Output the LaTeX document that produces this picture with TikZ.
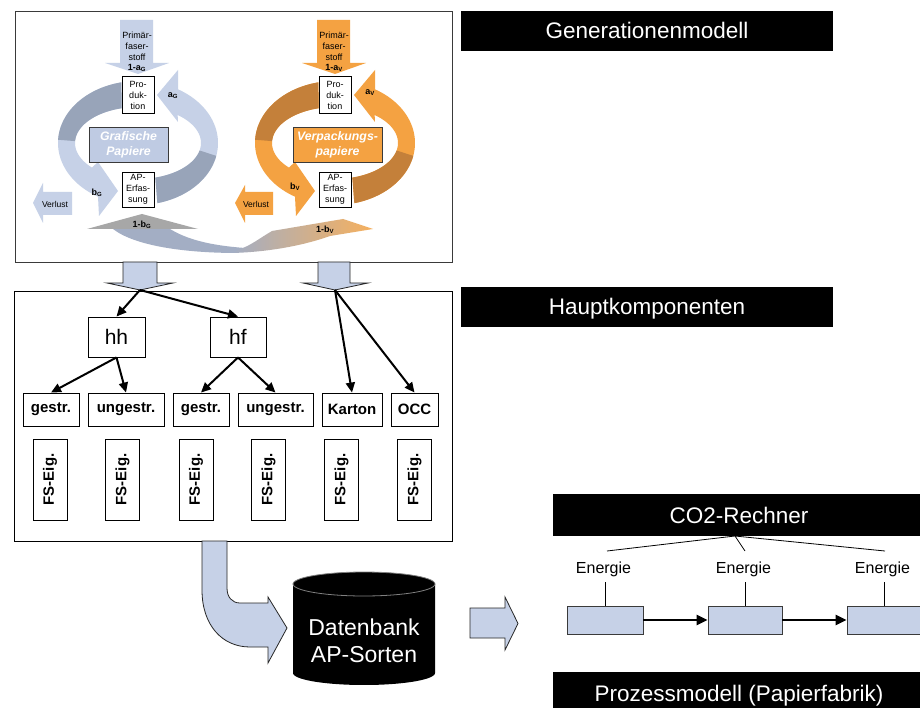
\documentclass[tikz,border=0pt]{standalone}
\usepackage{fontspec}
\usepackage{graphicx}
\setmainfont{Liberation Sans}
\usetikzlibrary{arrows.meta,calc}
\definecolor{lblue}{HTML}{C6D1E7}
\definecolor{dblue}{HTML}{98A4B9}
\definecolor{labblue}{HTML}{BFCBE3}
\definecolor{lor}{HTML}{F4A242}
\definecolor{dor}{HTML}{C4803A}
\definecolor{swg}{HTML}{A7A7A7}
\definecolor{swb}{HTML}{A3AEC4}
\definecolor{frm}{HTML}{3A3A3A}
\newcommand{\drawcycle}[3]{%
\fill[#2] plot[domain=258:120,samples=50] ({#1+80*cos(\x)},{143+62*sin(\x)}) -- ({#1-39},216) -- ({#1-20},191) -- ({#1-40},162) -- plot[domain=137:255,samples=50] ({#1+63*cos(\x)},{143+36*sin(\x)}) -- cycle;
\fill[#3] plot[domain=258:183,samples=40] ({#1+80*cos(\x)},{143+62*sin(\x)}) -- plot[domain=183:255,samples=40] ({#1+63*cos(\x)},{143+36*sin(\x)}) -- cycle;
\fill[#2] plot[domain=76:-60,samples=50] ({#1+80*cos(\x)},{143+62*sin(\x)}) -- ({#1+40},70) -- ({#1+19},95) -- ({#1+40},122) -- plot[domain=-51:74,samples=50] ({#1+63*cos(\x)},{143+36*sin(\x)}) -- cycle;
\fill[#3] plot[domain=76:12,samples=40] ({#1+80*cos(\x)},{143+62*sin(\x)}) -- plot[domain=12:74,samples=40] ({#1+63*cos(\x)},{143+36*sin(\x)}) -- cycle;
\fill[#2] ({#1-18},20) -- ({#1+15},20) -- ({#1+15},63) -- ({#1+31},63) -- (#1,74) -- ({#1-33},63) -- ({#1-18},63) -- cycle;
}
\begin{document}
\begin{tikzpicture}[x=1pt,y=-1pt,
  title/.style={fill=black,text=white,font=\fontsize{22.5}{27}\selectfont,inner sep=0pt,minimum width=372pt,minimum height=40pt,text height=16pt,text depth=0pt},
  small/.style={font=\fontsize{9}{10.7}\selectfont,align=center,inner sep=0pt},
  lab/.style={font=\fontsize{9}{10}\selectfont\bfseries,inner sep=0pt},
  cbox/.style={draw=black,fill=white,line width=0.8pt,inner sep=0pt,align=center,font=\fontsize{9}{11}\selectfont,minimum width=32pt,minimum height=37pt},
  labbox/.style={draw=frm,line width=0.8pt,inner sep=0pt,align=center,text=white,font=\fontsize{12.3}{15}\selectfont\bfseries\itshape,minimum height=35pt},
  hbox/.style={draw=black,line width=0.9pt,inner sep=0pt,minimum height=40pt,font=\fontsize{21}{24}\selectfont},
  catbox/.style={draw=black,line width=0.9pt,inner sep=0pt,minimum height=33pt,font=\fontsize{15}{18}\selectfont\bfseries},
  fsbox/.style={draw=black,line width=0.9pt,inner sep=0pt,minimum width=34pt,minimum height=81pt,font=\fontsize{15}{18}\selectfont\bfseries},
  harrow/.style={line width=2pt,-{Triangle[length=10pt,width=9pt]}},
  blockarrow/.style={fill=lblue,draw=black!85,line width=0.8pt},
  pbox/.style={fill=lblue,draw=frm,line width=0.9pt,inner sep=0pt,minimum height=28pt},
  parrow/.style={line width=2.6pt,-{Triangle[length=11pt,width=10pt]}},
  enl/.style={font=\fontsize{16}{19}\selectfont,inner sep=0pt}
]
\fill[white] (0,0) rectangle (920,708);
\useasboundingbox (0,0) rectangle (920,708);

% ---------- Generationenmodell ----------
\node[draw=frm,line width=0.9pt,minimum width=437pt,minimum height=251pt,inner sep=0pt] (genframe) at (233.5,136.5) {};
\drawcycle{138}{lblue}{dblue}
\drawcycle{335}{lor}{dor}

% swoosh 1-b
\fill[swb] (113,229) .. controls (135,246) and (185,253) .. (238,253) -- (245,248) .. controls (205,245) and (185,238) .. (170,229) -- cycle;
\fill[swg] (87,229) -- (142,214) -- (198,229) -- cycle;
\shade[left color=swb, right color=lor!85!white] (232,253) .. controls (270,252) and (305,245) .. (330,236) -- (373,229) -- (343,219) -- (272,231) .. controls (260,238) and (250,246) .. (240,249) -- cycle;
\node[lab] (bG1) at (142,225) {1-b\textsubscript{G}};
\node[lab] (bV1) at (325,230) {1-b\textsubscript{V}};

% Verlust arrows
\fill[lblue] (33,203) -- (43,183) -- (43,192) -- (72,192) -- (72,215) -- (43,215) -- (43,223) -- cycle;
\fill[lor] (235,203) -- (245,185) -- (245,192) -- (273,192) -- (273,215) -- (245,215) -- (245,223) -- cycle;
\node[small,font=\fontsize{8.5}{10}\selectfont] (verlG) at (55,204) {Verlust};
\node[small,font=\fontsize{8.5}{10}\selectfont] (verlV) at (256,204) {Verlust};

% boxes
\node[cbox] (prodG) at (138,95) {Pro-\\duk-\\tion};
\node[cbox,minimum height=35pt] (apG) at (138,189.5) {AP-\\Erfas-\\sung};
\node[cbox] (prodV) at (335,95) {Pro-\\duk-\\tion};
\node[cbox,minimum height=35pt] (apV) at (335,189.5) {AP-\\Erfas-\\sung};
\node[labbox,fill=labblue,minimum width=79pt] (labG) at (128.5,144.5) {Grafische\\Papiere};
\node[labbox,fill=lor,minimum width=89pt] (labV) at (337.5,144.5) {Verpackungs-\\papiere};

% Primärfaserstoff texts
\node[small] (primG) at (137,52) {Primär-\\faser-\\stoff\\\textbf{1-a\textsubscript{G}}};
\node[small] (primV) at (334,52) {Primär-\\faser-\\stoff\\\textbf{1-a\textsubscript{V}}};
\node[lab] (aG) at (173,96) {a\textsubscript{G}};
\node[lab] (bG) at (97,193) {b\textsubscript{G}};
\node[lab] (aV) at (370,93) {a\textsubscript{V}};
\node[lab] (bV) at (295,187) {b\textsubscript{V}};

\node[title] (gen) at (647,31) {Generationenmodell};

% ---------- connecting block arrows ----------
\draw[blockarrow] (123,262) -- (157,262) -- (157,283) -- (173,283) -- (140,290) -- (107,283) -- (123,283) -- cycle;
\draw[blockarrow] (318,262) -- (350,262) -- (350,283) -- (368,283) -- (335,290) -- (303,283) -- (318,283) -- cycle;
\coordinate (lt) at (140,290);
\coordinate (rt) at (335,290);

% ---------- Hauptkomponenten ----------
\node[draw=black,line width=0.9pt,minimum width=438pt,minimum height=250pt,inner sep=0pt] (hkframe) at (233,416) {};
\node[title] (hk) at (647,307) {Hauptkomponenten};

\node[hbox,minimum width=57pt] (hh) at (116.5,337) {hh};
\node[hbox,minimum width=56pt] (hf) at (238,337) {hf};

\node[catbox,minimum width=56pt] (g1) at (51,409.5) {gestr.};
\node[catbox,minimum width=76pt] (u1) at (126,409.5) {ungestr.};
\node[catbox,minimum width=56pt] (g2) at (201,409.5) {gestr.};
\node[catbox,minimum width=75pt] (u2) at (275.5,409.5) {ungestr.};
\node[catbox,minimum width=60pt] (kar) at (352,409.5) {Karton};
\node[catbox,minimum width=47pt] (occ) at (414.5,409.5) {OCC};

\node[fsbox] (fs1) at (50,479.5) {\rotatebox{90}{FS-Eig.}};
\node[fsbox] (fs2) at (122.5,479.5) {\rotatebox{90}{FS-Eig.}};
\node[fsbox] (fs3) at (196,479.5) {\rotatebox{90}{FS-Eig.}};
\node[fsbox] (fs4) at (268.5,479.5) {\rotatebox{90}{FS-Eig.}};
\node[fsbox] (fs5) at (341.5,479.5) {\rotatebox{90}{FS-Eig.}};
\node[fsbox] (fs6) at (414.5,479.5) {\rotatebox{90}{FS-Eig.}};

\draw[harrow] (lt) -- (hh.north);
\draw[harrow] (lt) -- (hf.north);
\draw[harrow] (hh.south) -- (g1.north);
\draw[harrow] (hh.south) -- (u1.north);
\draw[harrow] (hf.south) -- (g2.north);
\draw[harrow] (hf.south) -- (u2.north);
\draw[harrow] (rt) -- (kar.north);
\draw[harrow] (rt) -- (occ.north);

% ---------- Datenbank ----------
\draw[blockarrow] (202,541) -- (202,590) .. controls (202,625) and (222,647) .. (250,647) -- (268,647) -- (268,663) -- (287,628) -- (268,597) -- (268,603) -- (240,603) .. controls (232,603) and (227,597) .. (227,588) -- (227,541) -- cycle;
\fill[black] (293,584) -- (293,673) -- plot[domain=180:0,samples=40] ({364+71*cos(\x)},{673+12*sin(\x)}) -- (435,584) -- plot[domain=0:-180,samples=40] ({364+71*cos(\x)},{584+12*sin(\x)}) -- cycle;
\draw[gray,line width=0.8pt] plot[domain=0:360,samples=60] ({364+71*cos(\x)},{584+12*sin(\x)});
\node[text=white,align=center,inner sep=0pt,font=\fontsize{23}{27}\selectfont] (db) at (364,641) {Datenbank\\AP-Sorten};
\draw[blockarrow] (470,608) -- (505,608) -- (505,597) -- (518,623.5) -- (505,650) -- (505,638) -- (470,638) -- cycle;

% ---------- CO2 / Prozessmodell ----------
\node[title,minimum height=42pt] (co2) at (739,515) {CO2-Rechner};
\node[title,minimum height=42pt] (proz) at (739,693) {Prozessmodell (Papierfabrik)};
\coordinate (hub) at (735,536);
\coordinate (t1) at (607,551);
\coordinate (t2) at (745,551);
\coordinate (t3) at (885,551);
\draw[line width=0.8pt] (hub) -- (t1);
\draw[line width=0.8pt] (hub) -- (t2);
\draw[line width=0.8pt] (hub) -- (t3);
\node[enl,anchor=base] (e1) at (603.5,573) {Energie};
\node[enl,anchor=base] (e2) at (743.5,573) {Energie};
\node[enl,anchor=base] (e3) at (882.5,573) {Energie};
\node[pbox,minimum width=76pt] (p1) at (605,620) {};
\node[pbox,minimum width=74pt] (p2) at (745,620) {};
\node[pbox,minimum width=75pt] (p3) at (884.5,620) {};
\coordinate (v1) at (605,582);
\coordinate (v2) at (745,582);
\coordinate (v3) at (884,582);
\draw[line width=0.8pt] (v1) -- (p1.north);
\draw[line width=0.8pt] (v2) -- (p2.north);
\draw[line width=0.8pt] (v3) -- (v3 |- p3.north);
\draw[parrow] (p1.east) -- (p2.west);
\draw[parrow] (p2.east) -- (p3.west);
\end{tikzpicture}
\end{document}
